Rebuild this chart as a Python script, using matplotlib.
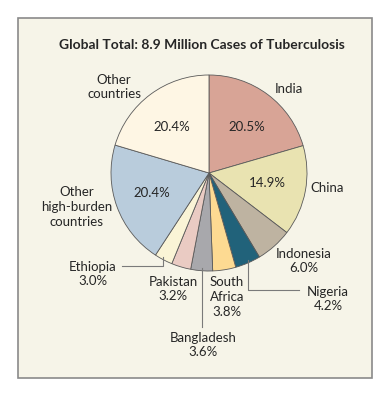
import numpy as np
import matplotlib
matplotlib.use("Agg")
from matplotlib import pyplot as plt
from matplotlib.patches import Rectangle

# data
countries = ['India', 'China', 'Indonesia', 'Nigeria', 'South Africa', 'Bangladesh',
             'Pakistan', 'Ethiopia', 'Other high-burden countries', 'Other countries']
shares = [20.5, 14.9, 6.0, 4.2, 3.8, 3.6, 3.2, 3.0, 20.4, 20.4]
colors = ['#D8A496', '#E9E3B1', '#BEB3A1', '#21627A', '#FDDA92', '#A8A8AC',
          '#EACBC3', '#FAF4D6', '#B9CCDC', '#FEF6E4']
title = 'Global Total: 8.9 Million Cases of Tuberculosis'

W, H = 391, 397
plt.rcParams['font.family'] = ['Lato', 'DejaVu Sans']
txt = '#262626'


def Y(y):
    # pixel row (from top) -> data y
    return H - y


fig = plt.figure(figsize=(W / 100, H / 100), dpi=100)
ax = fig.add_axes([0, 0, 1, 1])

ax.add_patch(Rectangle((18, Y(378)), 354, 360, facecolor='#F6F4E8',
                       edgecolor='#8A8A8A', lw=1.2, zorder=0))

ax.text(202, Y(45), title, ha='center', va='center', fontsize=10,
        fontweight='bold', color=txt)

cx, cy, r = 209, Y(173), 98
wedges, _ = ax.pie(shares, colors=colors, startangle=90, counterclock=False,
                   center=(cx, cy), radius=r, frame=True,
                   wedgeprops=dict(edgecolor='#5a5a5a', linewidth=0.6))
ax.set_xlim(0, W)
ax.set_ylim(0, H)
ax.set_aspect('equal')
ax.axis('off')


def edge_point(i):
    w = wedges[i]
    a = np.deg2rad((w.theta1 + w.theta2) / 2)
    return cx + r * np.cos(a), cy + r * np.sin(a)


fs = 9.5
lbl = dict(ha='center', va='center', fontsize=fs, color=txt, linespacing=1.25)

ax.text(114, Y(87), 'Other\ncountries', **lbl)
ax.text(172, Y(127), '%.1f%%' % shares[9], **lbl)
ax.text(289, Y(89), 'India', **lbl)
ax.text(247, Y(127), '%.1f%%' % shares[0], **lbl)
ax.text(327, Y(188), 'China', **lbl)
ax.text(267, Y(183), '%.1f%%' % shares[1], **lbl)
ax.text(77, Y(207), 'Other\nhigh-burden\ncountries', **lbl)
ax.text(152, Y(193), '%.1f%%' % shares[8], **lbl)
ax.text(304, Y(261), 'Indonesia\n%.1f%%' % shares[2], **lbl)
ax.text(93, Y(274), 'Ethiopia\n%.1f%%' % shares[7], **lbl)
ax.text(173, Y(289), 'Pakistan\n%.1f%%' % shares[6], **lbl)
ax.text(227, Y(297), 'South\nAfrica\n%.1f%%' % shares[4], **lbl)
ax.text(203, Y(345), 'Bangladesh\n%.1f%%' % shares[5], **lbl)
ax.text(328, Y(299), 'Nigeria\n%.1f%%' % shares[3], **lbl)

line = dict(color='#7a7a7a', lw=0.8, zorder=5)
# Ethiopia leader
ex, ey = edge_point(7)
ax.plot([ex, ex, 122], [ey + 3, Y(266), Y(266)], **line)
# Bangladesh leader
bx, by = edge_point(5)
ax.plot([bx, bx], [by + 3, Y(327)], **line)
# Nigeria leader
nx, ny = edge_point(3)
ax.plot([nx, nx, 299], [ny + 3, Y(290), Y(290)], **line)

fig.savefig('out.png', dpi=100, facecolor='white')
